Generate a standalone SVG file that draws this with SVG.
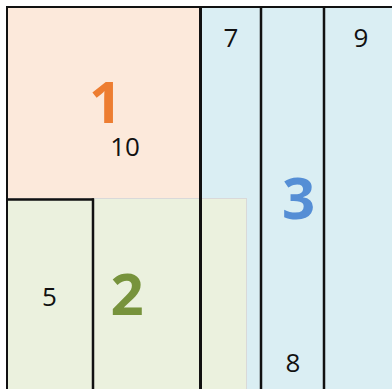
<svg xmlns="http://www.w3.org/2000/svg" width="392" height="389" viewBox="0 0 392 389">
<style>
.ln{stroke:#111;fill:none}
.t{font-family:"Open Sans","Noto Sans",sans-serif;font-size:26px;fill:#111;text-anchor:middle}
.b{font-family:"Open Sans","Noto Sans",sans-serif;font-size:58px;font-weight:bold;text-anchor:middle}
</style>
<rect width="392" height="389" fill="#fff"/>
<g id="region3">
<rect x="200" y="7" width="192" height="382" fill="#DAEEF3"/>
<text class="b" x="298.5" y="219" fill="#558ED5">3</text>
<text class="t" x="231" y="47">7</text>
<text class="t" x="361" y="47">9</text>
<text class="t" x="293" y="372">8</text>
</g>
<g id="region1">
<rect x="7" y="7" width="193" height="192" fill="#FCE9DB"/>
<text class="b" x="105.5" y="123" fill="#ED7D31">1</text>
<text class="t" x="125" y="156">10</text>
</g>
<g id="region2">
<rect x="7.5" y="198.5" width="239" height="191" fill="#EBF1DE" stroke="#D9D9D9" stroke-width="1"/>
<text class="b" x="127" y="315" fill="#77933C">2</text>
<text class="t" x="49.5" y="306">5</text>
</g>
<g id="connectors">
<line class="ln" x1="6" y1="7" x2="392" y2="7" stroke-width="2"/>
<line class="ln" x1="7" y1="6" x2="7" y2="389" stroke-width="2"/>
<line class="ln" x1="200.5" y1="6" x2="200.5" y2="389" stroke-width="3"/>
<line class="ln" x1="261" y1="6" x2="261" y2="389" stroke-width="2.5"/>
<line class="ln" x1="324" y1="6" x2="324" y2="389" stroke-width="2.5"/>
<line class="ln" x1="6" y1="199.5" x2="94" y2="199.5" stroke-width="2.5"/>
<line class="ln" x1="93" y1="198.5" x2="93" y2="389" stroke-width="2.5"/>
</g>
</svg>
